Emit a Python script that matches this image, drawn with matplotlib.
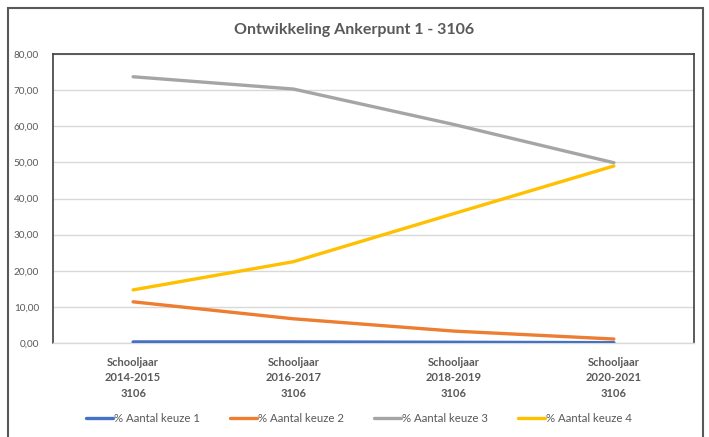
import matplotlib
matplotlib.use('Agg')
import matplotlib.pyplot as plt
from matplotlib.patches import Rectangle
from matplotlib.ticker import FuncFormatter

# Data
categories = ['Schooljaar\n2014-2015\n3106', 'Schooljaar\n2016-2017\n3106',
              'Schooljaar\n2018-2019\n3106', 'Schooljaar\n2020-2021\n3106']
keuze_1 = [0.3, 0.3, 0.2, 0.1]
keuze_2 = [11.4, 6.7, 3.3, 1.1]
keuze_3 = [73.7, 70.3, 60.5, 49.9]
keuze_4 = [14.7, 22.5, 35.8, 49.0]
series_labels = ['% Aantal keuze 1', '% Aantal keuze 2', '% Aantal keuze 3', '% Aantal keuze 4']
colors = ['#4472C4', '#ED7D31', '#A5A5A5', '#FFC000']

plt.rcParams['font.family'] = ['Lato', 'DejaVu Sans']
text_col = '#595959'

fig = plt.figure(figsize=(7.09, 4.37), dpi=100)
ax = fig.add_axes([53 / 709, 1 - 343 / 437, (694 - 53) / 709, (343 - 54) / 437])

x = range(len(categories))
for vals, lab, c in zip([keuze_1, keuze_2, keuze_3, keuze_4], series_labels, colors):
    ax.plot(x, vals, color=c, lw=2.4, label=lab, solid_capstyle='round', zorder=3)

ax.set_xlim(-0.5, len(categories) - 0.5)
ax.set_ylim(0, 80)
ax.set_yticks(range(0, 81, 10))
ax.yaxis.set_major_formatter(FuncFormatter(lambda v, p: ('%.2f' % v).replace('.', ',')))
ax.set_xticks(list(x))
ax.set_xticklabels(categories, fontweight='bold', fontsize=8, color=text_col, linespacing=1.5)
ax.tick_params(axis='y', labelsize=7.2, colors=text_col, length=0, pad=10)
ax.tick_params(axis='x', length=0, pad=10)
ax.grid(axis='y', color='#d9d9d9', lw=1, zorder=0)

for s in ['left', 'top', 'right']:
    ax.spines[s].set_color('#404040')
    ax.spines[s].set_linewidth(1.2)
ax.spines['bottom'].set_color('#d9d9d9')
ax.spines['bottom'].set_linewidth(1)

fig.text(0.5, 1 - 30 / 437, 'Ontwikkeling Ankerpunt 1 - 3106', ha='center', va='center',
         fontsize=11.5, fontweight='bold', color=text_col)

fig.legend(loc='center', bbox_to_anchor=(359 / 709, 1 - 418 / 437), ncol=4, frameon=False,
           fontsize=8.2, handlelength=2.4, handletextpad=0.1, columnspacing=2.6,
           labelcolor=text_col)

# outer chart border
fig.patches.append(Rectangle((8 / 709, -0.05), (703 - 8) / 709, 1.05 - 8 / 437,
                             transform=fig.transFigure, fill=False,
                             edgecolor='#595959', lw=1.5))

fig.savefig('out.png', dpi=100)
